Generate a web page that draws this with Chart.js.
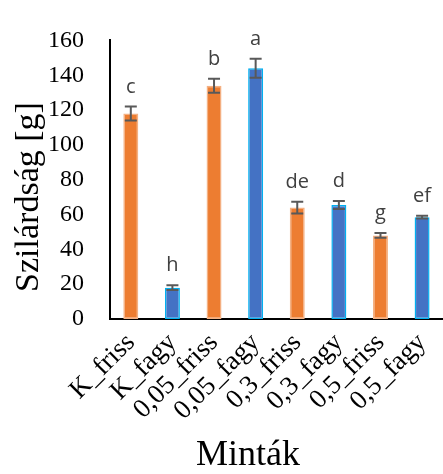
<!DOCTYPE html>
<html>
<head>
<meta charset="utf-8">
<script src="https://cdn.jsdelivr.net/npm/chart.js@4.4.1/dist/chart.umd.min.js"></script>
<style>
  html, body { margin: 0; padding: 0; background: #fff; overflow: hidden; }
  #wrap { width: 453px; height: 474px; position: relative; }
</style>
</head>
<body>
<div id="wrap"><canvas id="c"></canvas></div>
<script>
// Samples, mean firmness, standard deviation and significance letters
const categories = ['K_friss', 'K_fagy', '0,05_friss', '0,05_fagy', '0,3_friss', '0,3_fagy', '0,5_friss', '0,5_fagy'];
const means = [118, 18, 134, 144, 64, 65.5, 48, 58.5];
const errors = [4, 1.4, 4, 5.5, 3.4, 2.3, 1.4, 0.8];
const letters = ['c', 'h', 'b', 'a', 'de', 'd', 'g', 'ef'];
const yTicks = [0, 20, 40, 60, 80, 100, 120, 140, 160];
const xTitle = 'Minták';
const yTitle = 'Szilárdság [g]';

const SERIF = "'Liberation Serif', serif";
const SANS = "'Open Sans', 'Liberation Sans', sans-serif";

const fillColors = categories.map(c => c.endsWith('friss') ? '#ED7D31' : '#4472C4');
const edgeColors = categories.map(c => c.endsWith('friss') ? '#F4B183' : '#00B0F0');

// Error whiskers and letters above every bar
const errorBarPlugin = {
  id: 'errorBars',
  afterDatasetsDraw(chart) {
    const ctx = chart.ctx;
    const y = chart.scales.y;
    const meta = chart.getDatasetMeta(0);
    ctx.save();
    meta.data.forEach((bar, i) => {
      const top = y.getPixelForValue(means[i] + errors[i]);
      const bot = y.getPixelForValue(means[i] - errors[i]);
      ctx.strokeStyle = '#595959';
      ctx.lineWidth = 2;
      ctx.beginPath();
      ctx.moveTo(bar.x, top); ctx.lineTo(bar.x, bot);
      ctx.moveTo(bar.x - 6, top); ctx.lineTo(bar.x + 6, top);
      ctx.moveTo(bar.x - 6, bot); ctx.lineTo(bar.x + 6, bot);
      ctx.stroke();
      ctx.fillStyle = '#404040';
      ctx.font = '20px ' + SANS;
      ctx.textAlign = 'center';
      ctx.textBaseline = 'alphabetic';
      ctx.fillText(letters[i], bar.x, top - 14);
    });
    ctx.restore();
  }
};

// Axis titles
const axisTitlePlugin = {
  id: 'axisTitles',
  afterDraw(chart) {
    const ctx = chart.ctx;
    ctx.save();
    ctx.fillStyle = '#000';
    ctx.textAlign = 'center';
    ctx.textBaseline = 'middle';
    ctx.font = '36px ' + SERIF;
    ctx.fillText(xTitle, 248, 456);
    ctx.translate(29, 197);
    ctx.rotate(-Math.PI / 2);
    ctx.font = '34px ' + SERIF;
    ctx.fillText(yTitle, 0, 0);
    ctx.restore();
  }
};

function build() {
  Chart.defaults.font.family = SERIF;
  new Chart(document.getElementById('c'), {
    type: 'bar',
    data: {
      labels: categories,
      datasets: [{
        data: means,
        backgroundColor: fillColors,
        borderColor: edgeColors,
        borderWidth: 1.5,
        borderSkipped: false,
        categoryPercentage: 1,
        barPercentage: 0.36
      }]
    },
    options: {
      responsive: true,
      maintainAspectRatio: false,
      animation: false,
      layout: { padding: { top: 29, right: 0, left: 0, bottom: 0 } },
      plugins: { legend: { display: false }, tooltip: { enabled: false } },
      scales: {
        x: {
          grid: { display: false, drawTicks: false },
          border: { display: true, color: '#000', width: 2 },
          ticks: {
            color: '#000',
            font: { family: SERIF, size: 27 },
            maxRotation: 45, minRotation: 45, autoSkip: false, padding: 8
          },
          afterFit(scale) { scale.height = 155; }
        },
        y: {
          min: 0, max: 160,
          afterBuildTicks(scale) { scale.ticks = yTicks.map(v => ({ value: v })); },
          grid: { display: false, drawTicks: false },
          border: { display: true, color: '#000', width: 2 },
          ticks: {
            color: '#000',
            font: { family: SERIF, size: 24 },
            padding: 26
          },
          afterFit(scale) { scale.width = 110; }
        }
      }
    },
    plugins: [errorBarPlugin, axisTitlePlugin]
  });
}

const fontLoads = document.fonts && document.fonts.load
  ? Promise.all([
      document.fonts.load('24px "Liberation Serif"'),
      document.fonts.load('20px "Open Sans"')
    ]).catch(() => {})
  : Promise.resolve();
fontLoads.then(build);
</script>
</body>
</html>
